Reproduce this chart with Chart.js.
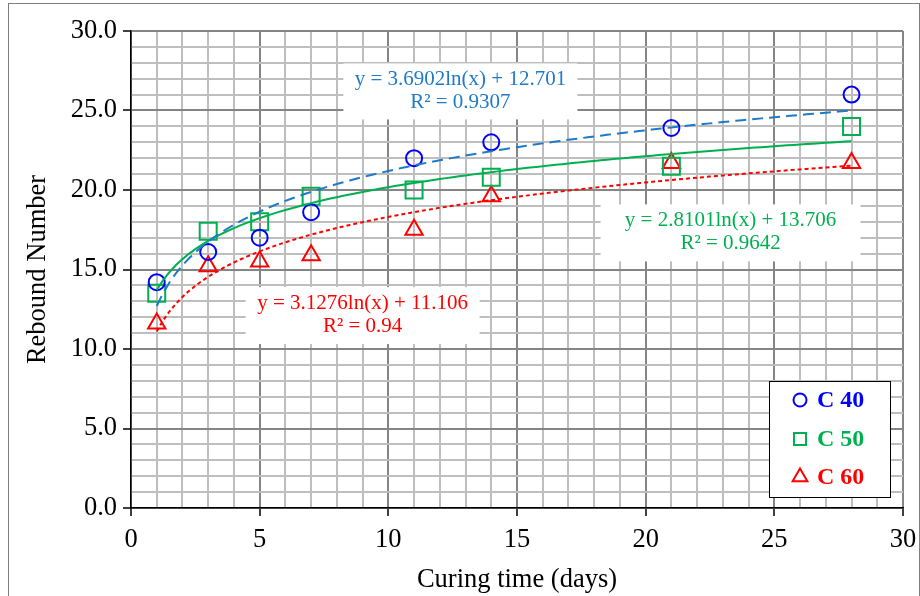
<!DOCTYPE html>
<html>
<head>
<meta charset="utf-8">
<script src="https://cdn.jsdelivr.net/npm/chart.js@4/dist/chart.umd.min.js"></script>
<style>
  html, body { margin: 0; padding: 0; background: #fff; }
  #wrap { width: 920px; height: 596px; position: relative; }
</style>
</head>
<body>
<div id="wrap"><canvas id="chart" width="920" height="596"></canvas></div>
<script>
// ===== DATA =====
const days = [1, 3, 5, 7, 11, 14, 21, 28];
const c40 = [14.2, 16.1, 17.0, 18.6, 22.0, 23.0, 23.9, 26.0];
const c50 = [13.5, 17.4, 18.0, 19.6, 20.0, 20.8, 21.5, 24.0];
const c60 = [11.6, 15.2, 15.5, 15.9, 17.5, 19.6, 21.7, 21.7];

const seriesNames = ["C 40", "C 50", "C 60"];
// log trendlines as printed on the chart: y = a ln(x) + b
const trendSlope = [3.6902, 2.8101, 3.1276];
const trendIntercept = [12.701, 13.706, 11.106];
const trendR2 = ["0.9307", "0.9642", "0.94"];

const yTicks = [0, 5, 10, 15, 20, 25, 30];
const xTicks = [0, 5, 10, 15, 20, 25, 30];

// ===== STYLE =====
const FONT = "'Liberation Serif', 'Times New Roman', serif";
const markerColors = ["#0000FF", "#00B050", "#FF0000"];
const lineColors = ["#1F7AC8", "#00B050", "#FF0000"];
const lineDash = [[11, 6], [], [4, 3]];
const markerStyle = ["circle", "rect", "triangle"];
const markerRadius = [8, 12, 10];

function toPoints(xs, ys) {
  return xs.map((x, i) => ({ x: x, y: ys[i] }));
}

// curve of the printed equation, evaluated from first to last day
function trendPoints(k) {
  const pts = [];
  for (let x = days[0]; x <= days[days.length - 1] + 1e-9; x += 0.25) {
    pts.push({ x: x, y: trendSlope[k] * Math.log(x) + trendIntercept[k] });
  }
  return pts;
}

const seriesValues = [c40, c50, c60];

const datasets = [];
seriesValues.forEach((vals, k) => {
  datasets.push({
    label: seriesNames[k] + " trend",
    data: trendPoints(k),
    showLine: true,
    borderColor: lineColors[k],
    borderWidth: 2,
    borderDash: lineDash[k],
    pointRadius: 0,
    fill: false,
    tension: 0
  });
});
seriesValues.forEach((vals, k) => {
  datasets.push({
    label: seriesNames[k],
    data: toPoints(days, vals),
    showLine: false,
    pointStyle: markerStyle[k],
    pointRadius: markerRadius[k],
    pointHoverRadius: markerRadius[k],
    pointBorderWidth: 2,
    pointBorderColor: markerColors[k],
    pointBackgroundColor: "rgba(0,0,0,0)"
  });
});

const isMajor = v => Math.abs(v % 5) < 1e-6;

// ===== PLUGIN: frame, equation labels, legend =====
const decorPlugin = {
  id: "decor",
  beforeDraw(chart) {
    const ctx = chart.ctx;
    ctx.save();
    ctx.fillStyle = "#fff";
    ctx.fillRect(0, 0, chart.width, chart.height);
    ctx.strokeStyle = "#7f7f7f";
    ctx.lineWidth = 1;
    ctx.strokeRect(8.5, 3.5, 911, 600);
    ctx.restore();
  },
  afterDraw(chart) {
    const ctx = chart.ctx;
    const xs = chart.scales.x, ys = chart.scales.y;

    // equation boxes, anchored at a data position (centre of the box)
    const labels = [
      { k: 0, cx: 12.8, cy: 26.2, w: 234, h: 56 },
      { k: 1, cx: 23.3, cy: 17.3, w: 260, h: 57 },
      { k: 2, cx: 9.0, cy: 12.1, w: 234, h: 57 }
    ];
    ctx.save();
    labels.forEach(l => {
      const px = xs.getPixelForValue(l.cx);
      const py = ys.getPixelForValue(l.cy);
      ctx.fillStyle = "#fff";
      ctx.fillRect(px - l.w / 2, py - l.h / 2, l.w, l.h);
      ctx.fillStyle = lineColors[l.k];
      ctx.font = "21px " + FONT;
      ctx.textAlign = "center";
      ctx.textBaseline = "middle";
      const eq = "y = " + trendSlope[l.k].toFixed(4).replace(/0+$/, "") + "ln(x) + " + trendIntercept[l.k];
      ctx.fillText(eq, px, py - 12);
      ctx.fillText("R\u00B2 = " + trendR2[l.k], px, py + 11);
    });
    ctx.restore();

    // legend box
    const lx = 769.5, ly = 381.5, lw = 121, lh = 116;
    ctx.save();
    ctx.fillStyle = "#fff";
    ctx.fillRect(lx, ly, lw, lh);
    ctx.strokeStyle = "#000";
    ctx.lineWidth = 1;
    ctx.strokeRect(lx, ly, lw, lh);
    const rows = [400, 439, 477];
    const legendRadius = [6.5, 8.5, 8.5];
    seriesNames.forEach((name, k) => {
      ctx.strokeStyle = markerColors[k];
      ctx.fillStyle = "rgba(0,0,0,0)";
      ctx.lineWidth = 2;
      Chart.helpers.drawPoint(ctx, {
        pointStyle: markerStyle[k],
        radius: legendRadius[k],
        borderWidth: 2
      }, 800, rows[k]);
      ctx.fillStyle = markerColors[k];
      ctx.font = "bold 24px " + FONT;
      ctx.textAlign = "left";
      ctx.textBaseline = "middle";
      ctx.fillText(name, 817, rows[k] + 1);
    });
    ctx.restore();
  }
};

new Chart(document.getElementById("chart"), {
  type: "scatter",
  data: { datasets: datasets },
  options: {
    responsive: false,
    animation: false,
    events: [],
    layout: { padding: { left: 10, right: 17, top: 31, bottom: 0 } },
    plugins: {
      legend: { display: false },
      tooltip: { enabled: false }
    },
    scales: {
      x: {
        type: "linear",
        min: xTicks[0],
        max: xTicks[xTicks.length - 1],
        afterFit(scale) {
          scale.height = 88;
          scale.paddingLeft = 0;
          scale.paddingRight = 0;
        },
        ticks: {
          stepSize: 1,
          autoSkip: false,
          maxRotation: 0,
          padding: 8,
          color: "#000",
          font: { family: FONT, size: 26.5 },
          callback: v => (xTicks.includes(v) ? String(v) : "")
        },
        grid: {
          color: c => (isMajor(c.tick.value) ? "#858585" : "#BEBEBE"),
          lineWidth: 2,
          tickLength: 8,
          tickColor: c => (isMajor(c.tick.value) ? "#000" : "rgba(0,0,0,0)"),
          tickWidth: 1.5
        },
        border: { color: "#000", width: 1.5 },
        title: {
          display: true,
          text: "Curing time (days)",
          color: "#000",
          font: { family: FONT, size: 26.5 },
          padding: { top: 0, bottom: 0 }
        }
      },
      y: {
        type: "linear",
        min: yTicks[0],
        max: yTicks[yTicks.length - 1],
        afterFit(scale) {
          scale.width = 121;
          scale.paddingTop = 0;
          scale.paddingBottom = 0;
        },
        ticks: {
          stepSize: 1,
          autoSkip: false,
          padding: 6,
          color: "#000",
          font: { family: FONT, size: 26.5 },
          callback: v => (yTicks.includes(v) ? v.toFixed(1) : "")
        },
        grid: {
          color: c => (isMajor(c.tick.value) ? "#858585" : "#BEBEBE"),
          lineWidth: 2,
          tickLength: 8,
          tickColor: c => (isMajor(c.tick.value) ? "#000" : "rgba(0,0,0,0)"),
          tickWidth: 1.5
        },
        border: { color: "#000", width: 1.5 },
        title: {
          display: true,
          text: "Rebound Number",
          color: "#000",
          font: { family: FONT, size: 26.5 },
          padding: { top: 12, bottom: 0 }
        }
      }
    }
  },
  plugins: [decorPlugin]
});
</script>
</body>
</html>
